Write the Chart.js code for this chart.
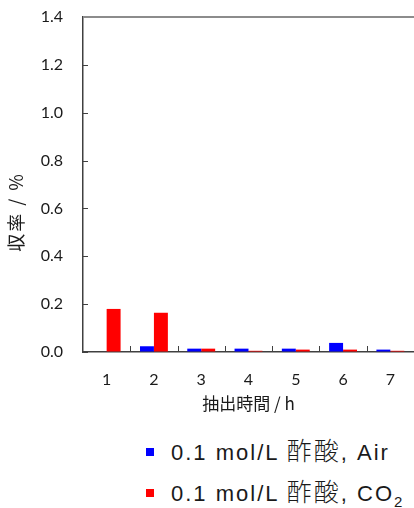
<!DOCTYPE html>
<html>
<head>
<meta charset="utf-8">
<script src="https://cdn.jsdelivr.net/npm/chart.js@4.4.1/dist/chart.umd.min.js"></script>
<style>
    html, body { margin: 0; padding: 0; background: #fff; overflow: hidden; }
    #wrap { position: relative; width: 414px; height: 508px; }
    #grafico { position: absolute; left: 0; top: 0; }
    #leyenda { position: absolute; left: 146px; top: 431px; font-family: "Liberation Sans", "Noto Sans CJK JP", sans-serif; font-size: 22px; letter-spacing: 2px; color: #1a1a1a; }
    .item { display: flex; align-items: center; height: 41px; white-space: nowrap; }
    .caja { width: 8px; height: 8px; margin-right: 17px; }
    .jp { font-family: "Noto Sans CJK JP", sans-serif; font-weight: 300; font-size: 25px; letter-spacing: 2px; line-height: 1; }
    .item sub { font-size: 15px; vertical-align: -6px; line-height: 0; }
</style>
</head>
<body>
<div id="wrap">
    <canvas id="grafico" width="414" height="425"></canvas>
    <div id="leyenda"></div>
</div>
<script>
// Datos
const horas = ['1', '2', '3', '4', '5', '6', '7'];
const rendAire = [0.002, 0.024, 0.014, 0.014, 0.014, 0.038, 0.010];
const rendCO2 = [0.180, 0.164, 0.014, 0.005, 0.010, 0.010, 0.005];
const etiquetas = ['0.1 mol/L 酢酸, Air', '0.1 mol/L 酢酸, CO₂'];
const colores = ['#0000ff', '#ff0000'];
const yMin = 0, yMax = 1.4, yPaso = 0.2;

const fuenteNum = '"Lato", "Liberation Sans", sans-serif';
const fuenteJp = '"Noto Sans CJK JP", sans-serif';
const colorEje = '#404040';

// Marcas hacia dentro, línea superior y título del eje Y
const extrasEjes = {
    id: 'extrasEjes',
    afterDraw(chart) {
        const { ctx, chartArea: a, scales: { x, y } } = chart;
        ctx.save();
        ctx.strokeStyle = colorEje;
        ctx.lineWidth = 1;
        y.ticks.forEach((t, i) => {
            const py = Math.round(y.getPixelForTick(i)) + 0.5;
            ctx.beginPath();
            ctx.moveTo(a.left, py);
            ctx.lineTo(a.left + 5, py);
            ctx.stroke();
        });
        for (let i = 1; i <= horas.length; i++) {
            const px = Math.round(x.getPixelForValue(i - 0.5)) + 0.5;
            ctx.beginPath();
            ctx.moveTo(px, a.bottom);
            ctx.lineTo(px, a.bottom - 6);
            ctx.stroke();
        }
        ctx.strokeStyle = '#8c8c8c';
        ctx.lineWidth = 2;
        ctx.beginPath();
        ctx.moveTo(a.left, a.top);
        ctx.lineTo(a.right, a.top);
        ctx.stroke();

        ctx.translate(16, 212);
        ctx.rotate(-Math.PI / 2);
        ctx.font = '18px ' + fuenteJp;
        ctx.letterSpacing = '2px';
        ctx.fillStyle = '#1a1a1a';
        ctx.textAlign = 'center';
        ctx.textBaseline = 'middle';
        ctx.fillText('収率 / %', 0, 0);
        ctx.restore();
    }
};

const ctx = document.getElementById('grafico').getContext('2d');
const grafico = new Chart(ctx, {
    type: 'bar',
    data: {
        labels: horas,
        datasets: [
            { label: etiquetas[0], data: rendAire, backgroundColor: colores[0] },
            { label: etiquetas[1], data: rendCO2, backgroundColor: colores[1] }
        ]
    },
    options: {
        responsive: false,
        animation: false,
        layout: { padding: { top: 17, right: 0, bottom: 0, left: 0 } },
        datasets: { bar: { categoryPercentage: 0.59, barPercentage: 1.0 } },
        plugins: { legend: { display: false }, tooltip: { enabled: false } },
        scales: {
            x: {
                grid: { display: true, drawOnChartArea: false, drawTicks: false },
                border: { display: true, color: colorEje, width: 1.5 },
                ticks: { color: '#1a1a1a', padding: 18, font: { family: fuenteNum, size: 16 } },
                title: { display: true, text: '抽出時間 / h', color: '#1a1a1a', padding: { top: 0, bottom: 11 }, font: { family: fuenteJp, size: 17 } },
                afterFit(scale) {
                    scale.height = 73;
                    scale.paddingLeft = 0;
                    scale.paddingRight = 0;
                }
            },
            y: {
                min: yMin,
                max: yMax,
                grid: { display: true, drawOnChartArea: false, drawTicks: false },
                border: { display: true, color: colorEje, width: 1.5 },
                ticks: {
                    stepSize: yPaso,
                    padding: 20,
                    color: '#1a1a1a',
                    font: { family: fuenteNum, size: 16 },
                    callback: (v) => Number(v).toFixed(1)
                },
                afterFit(scale) {
                    scale.width = 83;
                    scale.paddingTop = 0;
                    scale.paddingBottom = 0;
                }
            }
        }
    },
    plugins: [extrasEjes]
});

// Leyenda en HTML a partir de los datasets
const leyenda = document.getElementById('leyenda');
grafico.data.datasets.forEach(ds => {
    const item = document.createElement('div');
    item.className = 'item';
    const texto = ds.label
        .replace('酢酸', '<span class="jp">酢酸</span>')
        .replace('₂', '<sub>2</sub>');
    item.innerHTML = '<span class="caja" style="background:' + ds.backgroundColor + '"></span><span>' + texto + '</span>';
    leyenda.appendChild(item);
});
</script>
</body>
</html>
